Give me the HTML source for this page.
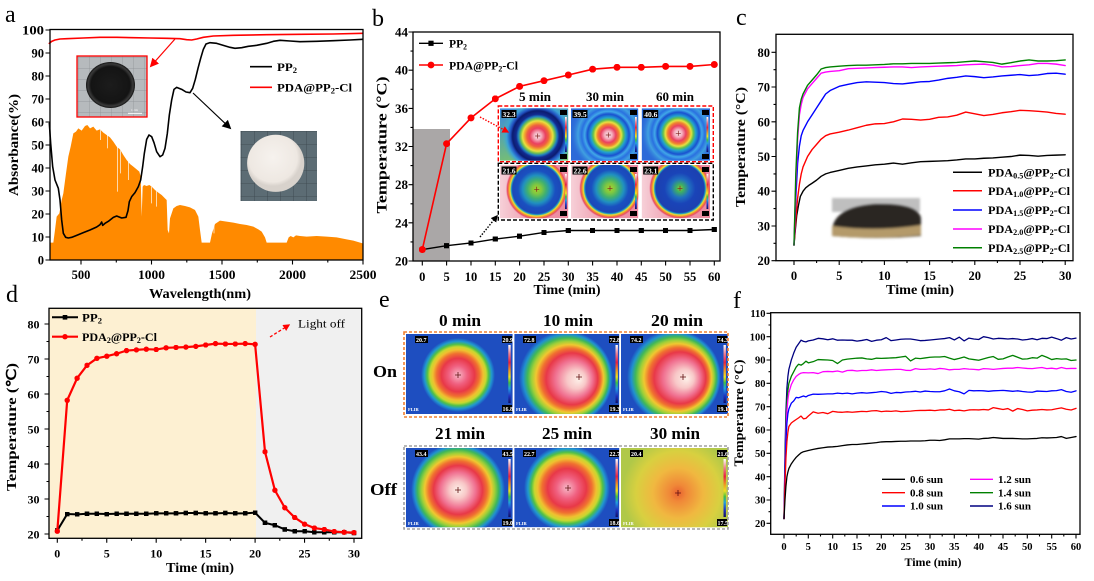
<!DOCTYPE html>
<html><head><meta charset="utf-8"><style>
html,body{margin:0;padding:0;background:#fff;}
svg{display:block;}
text{font-family:"Liberation Serif",serif;font-weight:bold;fill:#000;}
.pl{font-weight:normal;font-size:24px;}
.ax{fill:none;stroke:#000;stroke-width:1.3;}
.tk{fill:none;stroke:#000;stroke-width:1.1;}
.ns{vector-effect:non-scaling-stroke;fill:none;stroke-linejoin:round;stroke-linecap:round;}
.wt{fill:#fff;font-size:6px;}
</style></head><body>
<svg width="1094" height="581" viewBox="0 0 1094 581" xmlns="http://www.w3.org/2000/svg">
<defs>
<marker id="mSqB" viewBox="0 0 6 6" refX="3" refY="3" markerWidth="5.2" markerHeight="5.2" markerUnits="userSpaceOnUse"><rect width="6" height="6" fill="#000"/></marker>
<marker id="mCiB" viewBox="0 0 6 6" refX="3" refY="3" markerWidth="7" markerHeight="7" markerUnits="userSpaceOnUse"><circle cx="3" cy="3" r="3" fill="#f00"/></marker>
<marker id="mSqD" viewBox="0 0 6 6" refX="3" refY="3" markerWidth="4.6" markerHeight="4.6" markerUnits="userSpaceOnUse"><rect width="6" height="6" fill="#000"/></marker>
<marker id="mCiD" viewBox="0 0 6 6" refX="3" refY="3" markerWidth="5.4" markerHeight="5.4" markerUnits="userSpaceOnUse"><circle cx="3" cy="3" r="3" fill="#f00"/></marker>
<marker id="arK" viewBox="0 0 10 10" refX="8" refY="5" markerWidth="9" markerHeight="9" orient="auto" markerUnits="userSpaceOnUse"><path d="M0,0 L10,5 L0,10 z" fill="#000"/></marker>
<marker id="arR" viewBox="0 0 10 10" refX="8" refY="5" markerWidth="9" markerHeight="9" orient="auto" markerUnits="userSpaceOnUse"><path d="M0,0 L10,5 L0,10 z" fill="#f00"/></marker>
<marker id="arRs" viewBox="0 0 10 10" refX="8" refY="5" markerWidth="7" markerHeight="7" orient="auto" markerUnits="userSpaceOnUse"><path d="M0,0 L10,5 L0,10 z" fill="#f00"/></marker>
<marker id="arKs" viewBox="0 0 10 10" refX="8" refY="5" markerWidth="7" markerHeight="7" orient="auto" markerUnits="userSpaceOnUse"><path d="M0,0 L10,5 L0,10 z" fill="#000"/></marker>

<linearGradient id="cbar" x1="0" y1="0" x2="0" y2="1">
<stop offset="0" stop-color="#ffffff"/><stop offset="0.15" stop-color="#f08090"/><stop offset="0.3" stop-color="#e82040"/><stop offset="0.45" stop-color="#f0a020"/><stop offset="0.55" stop-color="#f0e020"/><stop offset="0.65" stop-color="#40c040"/><stop offset="0.75" stop-color="#20a0e0"/><stop offset="0.88" stop-color="#2030c0"/><stop offset="1" stop-color="#101060"/>
</linearGradient>

<linearGradient id="bt1bg" x1="0" y1="0" x2="0.3" y2="1"><stop offset="0" stop-color="#3a8ae0"/><stop offset="1" stop-color="#78c070"/></linearGradient>
<radialGradient id="bt1">
<stop offset="0" stop-color="#fbe8e8"/><stop offset="0.1" stop-color="#f4b0c0"/><stop offset="0.22" stop-color="#ea4060"/><stop offset="0.3" stop-color="#ee6040"/><stop offset="0.36" stop-color="#f0a030"/><stop offset="0.42" stop-color="#e8e040"/><stop offset="0.48" stop-color="#70c050"/><stop offset="0.54" stop-color="#2080c0"/><stop offset="0.6" stop-color="#122a90"/><stop offset="0.7" stop-color="#0c1c70"/><stop offset="0.76" stop-color="#2050c0"/><stop offset="0.86" stop-color="#3aa0d8"/><stop offset="1" stop-color="#50b8b0" stop-opacity="0"/>
</radialGradient>
<radialGradient id="bt2">
<stop offset="0" stop-color="#fbe8e8"/><stop offset="0.1" stop-color="#f4b0c0"/><stop offset="0.2" stop-color="#ea4060"/><stop offset="0.28" stop-color="#f08030"/><stop offset="0.34" stop-color="#e8e040"/><stop offset="0.4" stop-color="#60c050"/><stop offset="0.46" stop-color="#20a0d0"/><stop offset="0.55" stop-color="#1a50d0"/><stop offset="0.62" stop-color="#40a8e8"/><stop offset="0.7" stop-color="#2a70e0"/><stop offset="0.8" stop-color="#40a0e0"/><stop offset="1" stop-color="#2a6ad8" stop-opacity="0"/>
</radialGradient>
<linearGradient id="bbbg" x1="0" y1="0" x2="1" y2="0"><stop offset="0" stop-color="#f6d0d8"/><stop offset="0.5" stop-color="#ee98aa"/><stop offset="1" stop-color="#ec8aa0"/></linearGradient>
<radialGradient id="bb1">
<stop offset="0" stop-color="#a8d030"/><stop offset="0.15" stop-color="#80c840"/><stop offset="0.3" stop-color="#40b070"/><stop offset="0.45" stop-color="#2090c0"/><stop offset="0.6" stop-color="#1a50c0"/><stop offset="0.78" stop-color="#1c48b8"/><stop offset="0.82" stop-color="#20a0c0"/><stop offset="0.86" stop-color="#f0e030"/><stop offset="0.9" stop-color="#f09030"/><stop offset="0.95" stop-color="#e84868"/><stop offset="1" stop-color="#ee90a8" stop-opacity="0"/>
</radialGradient>
<radialGradient id="bb3">
<stop offset="0" stop-color="#90c838"/><stop offset="0.12" stop-color="#40b060"/><stop offset="0.3" stop-color="#2070c0"/><stop offset="0.5" stop-color="#1a44b8"/><stop offset="0.78" stop-color="#1c40b0"/><stop offset="0.82" stop-color="#20a0c0"/><stop offset="0.86" stop-color="#f0e030"/><stop offset="0.9" stop-color="#f09030"/><stop offset="0.95" stop-color="#e84868"/><stop offset="1" stop-color="#ee90a8" stop-opacity="0"/>
</radialGradient>

<radialGradient id="eg1">
<stop offset="0" stop-color="#f7b8c8"/><stop offset="0.25" stop-color="#f06080"/><stop offset="0.45" stop-color="#e83848"/><stop offset="0.58" stop-color="#f07030"/><stop offset="0.68" stop-color="#f0c030"/><stop offset="0.76" stop-color="#c8d830"/><stop offset="0.83" stop-color="#50c048"/><stop offset="0.91" stop-color="#2098d0"/><stop offset="1" stop-color="#1e4ec0"/>
</radialGradient>
<radialGradient id="eg2" fx="0.64" fy="0.52">
<stop offset="0" stop-color="#fdf0e8"/><stop offset="0.2" stop-color="#f8c8c8"/><stop offset="0.4" stop-color="#f07090"/><stop offset="0.55" stop-color="#e83848"/><stop offset="0.64" stop-color="#f07030"/><stop offset="0.72" stop-color="#f0c830"/><stop offset="0.79" stop-color="#a0d038"/><stop offset="0.86" stop-color="#40b858"/><stop offset="0.93" stop-color="#2090d0"/><stop offset="1" stop-color="#1e4ec0"/>
</radialGradient>
<radialGradient id="eg3">
<stop offset="0" stop-color="#fdf0e8"/><stop offset="0.18" stop-color="#f8c8c8"/><stop offset="0.38" stop-color="#f07090"/><stop offset="0.52" stop-color="#e83848"/><stop offset="0.62" stop-color="#f07030"/><stop offset="0.71" stop-color="#f0c830"/><stop offset="0.78" stop-color="#a0d038"/><stop offset="0.86" stop-color="#40b858"/><stop offset="0.93" stop-color="#2090d0"/><stop offset="1" stop-color="#1e4ec0"/>
</radialGradient>
<radialGradient id="eg4">
<stop offset="0" stop-color="#e86030"/><stop offset="0.15" stop-color="#f08838"/><stop offset="0.45" stop-color="#f0b840"/><stop offset="0.75" stop-color="#d8d040"/><stop offset="1" stop-color="#b0c848"/>
</radialGradient>

<pattern id="grid1" width="11" height="11" patternUnits="userSpaceOnUse" x="78" y="57"><rect width="11" height="11" fill="#b6babd"/><path d="M0 0H11M0 0V11" stroke="#8c9094" stroke-width="0.7"/></pattern>
<pattern id="grid2" width="13" height="13" patternUnits="userSpaceOnUse" x="241" y="131"><rect width="13" height="13" fill="#5c6c74"/><path d="M0 0H13M0 0V13" stroke="#3a454c" stroke-width="0.8"/></pattern>
<radialGradient id="wdisk" cx="0.45" cy="0.4"><stop offset="0" stop-color="#f6f2ee"/><stop offset="0.85" stop-color="#eee8e2"/><stop offset="1" stop-color="#d8d2cc"/></radialGradient>
<radialGradient id="bdisk" cx="0.5" cy="0.5"><stop offset="0" stop-color="#1c1c1c"/><stop offset="0.8" stop-color="#141414"/><stop offset="0.92" stop-color="#3a3a3a"/><stop offset="1" stop-color="#111"/></radialGradient>
<filter id="blur1" x="-20%" y="-30%" width="140%" height="160%"><feGaussianBlur stdDeviation="1.4"/></filter>

<clipPath id="cb1"><rect x="500" y="108.3" width="68.3" height="52.4"/></clipPath>
<clipPath id="cb2"><rect x="571" y="108.3" width="67.3" height="52.4"/></clipPath>
<clipPath id="cb3"><rect x="641.7" y="108.3" width="68.3" height="52.4"/></clipPath>
<clipPath id="cb4"><rect x="500" y="165" width="68.3" height="53.3"/></clipPath>
<clipPath id="cb5"><rect x="571" y="165" width="67.3" height="53.3"/></clipPath>
<clipPath id="cb6"><rect x="641.7" y="165" width="68.3" height="53.3"/></clipPath>
<clipPath id="ce1"><rect x="406" y="334" width="106.7" height="80"/></clipPath>
<clipPath id="ce2"><rect x="514.3" y="334" width="105" height="80"/></clipPath>
<clipPath id="ce3"><rect x="621" y="334" width="107" height="80"/></clipPath>
<clipPath id="ce4"><rect x="406" y="448" width="106.7" height="79.3"/></clipPath>
<clipPath id="ce5"><rect x="514.3" y="448" width="105" height="79.3"/></clipPath>
<clipPath id="ce6"><rect x="621" y="448" width="107" height="79.3"/></clipPath>
</defs>

<rect width="1094" height="581" fill="#fff"/>

<!-- ================= PANEL A ================= -->
<text class="pl" x="5" y="22">a</text>
<g transform="scale(0.3333333)">
<polygon fill="#ff8a00" points="150,780 150,728 160,728 165,690 170,650 178,640 185,600 190,580 198,520 205,470 212,440 220,400 228,395 235,385 245,392 255,378 262,375 270,385 280,380 290,392 300,388 310,398 320,405 330,412 340,425 350,440 360,448 370,465 380,480 390,492 400,500 410,508 418,515 422,530 425,650 428,560 432,555 440,558 448,555 455,560 465,570 475,578 485,585 495,595 500,600 503,690 507,700 510,655 515,640 520,625 530,618 540,615 555,618 570,622 585,630 595,650 600,690 605,728 630,728 636,700 645,672 660,662 680,665 700,668 720,672 740,675 760,680 775,688 785,695 795,712 800,728 860,728 866,712 872,708 880,712 888,706 900,708 920,710 950,708 980,710 1010,712 1040,718 1060,722 1088,730 1088,780"/>
<g stroke="#fff" stroke-width="2">
<line x1="302" y1="388" x2="302" y2="420"/><line x1="322" y1="405" x2="322" y2="445"/><line x1="352" y1="440" x2="352" y2="575"/><line x1="362" y1="448" x2="362" y2="520"/><line x1="385" y1="485" x2="385" y2="540"/><line x1="455" y1="560" x2="455" y2="610"/><line x1="470" y1="570" x2="470" y2="620"/><line x1="642" y1="672" x2="642" y2="700"/>
</g>
<polyline class="ns" stroke="#000" stroke-width="1.6" points="148,370 152,430 158,500 165,540 175,565 180,600 185,660 190,700 197,712 205,714 215,712 230,706 250,698 270,690 290,681 300,674 305,666 308,676 315,670 325,664 340,652 350,648 365,654 378,652 384,632 388,605 395,590 405,578 415,560 422,540 428,500 433,460 440,418 447,405 455,410 462,428 470,455 480,470 488,465 495,445 502,400 508,345 515,300 522,268 530,262 545,268 558,276 570,278 578,265 586,238 594,205 602,175 610,148 618,132 630,128 650,130 670,136 690,142 705,145 725,143 745,139 770,136 800,130 820,124 840,121 870,123 900,125 950,124 1000,122 1050,120 1088,118"/>
<polyline class="ns" stroke="#f00" stroke-width="1.6" points="148,130 155,124 165,120 180,117 200,116 250,114 300,112 350,112 400,113 450,114 500,115 540,116 560,119 575,120 590,117 610,112 640,108 700,106 800,104 900,103 1000,102 1088,100"/>
</g>
<rect x="77" y="56" width="70" height="61" fill="url(#grid1)"/>
<ellipse cx="110.5" cy="85" rx="24.5" ry="23" fill="url(#bdisk)"/>
<line x1="128" y1="113.3" x2="142" y2="113.3" stroke="#fff" stroke-width="1"/>
<text x="131" y="111" style="font-size:3.5px;fill:#fff;font-weight:normal">1 cm</text>
<rect x="77" y="56" width="70" height="61" fill="none" stroke="#f00" stroke-width="1.3"/>
<rect x="240.5" y="131" width="76.5" height="70" fill="url(#grid2)"/>
<circle cx="275.7" cy="163.3" r="28.6" fill="url(#wdisk)"/>
<line x1="175" y1="39" x2="151" y2="66" stroke="#f00" stroke-width="1.2" marker-end="url(#arR)"/>
<line x1="193" y1="93" x2="230" y2="128" stroke="#000" stroke-width="1.2" marker-end="url(#arK)"/>
<line x1="250" y1="66.7" x2="272" y2="66.7" stroke="#000" stroke-width="1.6"/>
<line x1="250" y1="87.3" x2="272" y2="87.3" stroke="#f00" stroke-width="1.6"/>
<text x="277" y="71" style="font-size:12px" textLength="20" lengthAdjust="spacingAndGlyphs">PP<tspan font-size="8" dy="2">2</tspan></text>
<text x="277" y="91.5" style="font-size:12px" textLength="75" lengthAdjust="spacingAndGlyphs">PDA@PP<tspan font-size="8" dy="2">2</tspan><tspan dy="-2">-Cl</tspan></text>
<rect class="ax" x="50" y="29.5" width="313" height="230.5"/>
<path class="tk" d="M45.5 260H50M45.5 237H50M45.5 214H50M45.5 191H50M45.5 168H50M45.5 145H50M45.5 122H50M45.5 99H50M45.5 76H50M45.5 53H50M45.5 30H50
M81 260V264.5M151.5 260V264.5M222 260V264.5M292.5 260V264.5M363 260V264.5M116.3 260V262.5M186.8 260V262.5M257.3 260V262.5M327.8 260V262.5"/>
<g style="font-size:12.5px" text-anchor="end">
<text x="44" y="264.5">0</text><text x="44" y="241.5">10</text><text x="44" y="218.5">20</text><text x="44" y="195.5">30</text><text x="44" y="172.5">40</text><text x="44" y="149.5">50</text><text x="44" y="126.5">60</text><text x="44" y="103.5">70</text><text x="44" y="80.5">80</text><text x="44" y="57.5">90</text><text x="44" y="34.5" textLength="22" lengthAdjust="spacingAndGlyphs">100</text>
</g>
<g style="font-size:12.5px" text-anchor="middle">
<text x="81" y="279">500</text><text x="151.5" y="279" textLength="27" lengthAdjust="spacingAndGlyphs">1000</text><text x="222" y="279" textLength="27" lengthAdjust="spacingAndGlyphs">1500</text><text x="292.5" y="279" textLength="27" lengthAdjust="spacingAndGlyphs">2000</text><text x="363" y="279" textLength="27" lengthAdjust="spacingAndGlyphs">2500</text>
</g>
<text transform="translate(18,145) rotate(-90)" text-anchor="middle" style="font-size:14px" textLength="102" lengthAdjust="spacingAndGlyphs">Absorbance(%)</text>
<text x="200" y="298" text-anchor="middle" style="font-size:14px" textLength="102" lengthAdjust="spacingAndGlyphs">Wavelength(nm)</text>

<!-- ================= PANEL B ================= -->
<text class="pl" x="372" y="26">b</text>
<rect x="413" y="129" width="37" height="132" fill="#aaa7a7"/>
<polyline fill="none" stroke="#000" stroke-width="1.4" marker-start="url(#mSqB)" marker-mid="url(#mSqB)" marker-end="url(#mSqB)" points="422.3,249.55 446.6,245.7 471,242.9 495.3,239.1 519.6,236.2 544,232.4 568.3,230.5 592.6,230.5 617,230.5 641.3,230.5 665.6,230.5 690,230.5 714.3,229.5"/>
<polyline fill="none" stroke="#f00" stroke-width="1.6" marker-start="url(#mCiB)" marker-mid="url(#mCiB)" marker-end="url(#mCiB)" points="422.3,249.55 446.6,143.7 471,117.9 495.3,98.8 519.6,86.4 544,80.7 568.3,75 592.6,69.2 617,67.3 641.3,67.3 665.6,66.4 690,66.4 714.3,64.5"/>
<rect x="419.7" y="247" width="5.2" height="5.2" fill="#f00"/>
<line x1="419" y1="43.3" x2="443" y2="43.3" stroke="#000" stroke-width="1.4"/><rect x="428.4" y="40.7" width="5.2" height="5.2" fill="#000"/>
<line x1="419" y1="65" x2="443" y2="65" stroke="#f00" stroke-width="1.6"/><circle cx="431" cy="65" r="3.4" fill="#f00"/>
<text x="449" y="47.5" style="font-size:12px" textLength="18" lengthAdjust="spacingAndGlyphs">PP<tspan font-size="8" dy="2">2</tspan></text>
<text x="449" y="69.3" style="font-size:12px" textLength="69" lengthAdjust="spacingAndGlyphs">PDA@PP<tspan font-size="8" dy="2">2</tspan><tspan dy="-2">-Cl</tspan></text>
<g style="font-size:13px" text-anchor="middle">
<text x="535" y="101" textLength="32" lengthAdjust="spacingAndGlyphs">5 min</text>
<text x="605" y="101" textLength="38" lengthAdjust="spacingAndGlyphs">30 min</text>
<text x="675" y="101" textLength="38" lengthAdjust="spacingAndGlyphs">60 min</text>
</g>
<g clip-path="url(#cb1)"><rect x="500" y="108.3" width="68.3" height="52.4" fill="url(#bt1bg)"/><circle cx="537.7" cy="136" r="36" fill="url(#bt1)"/></g>
<g clip-path="url(#cb2)"><rect x="571" y="108.3" width="67.3" height="52.4" fill="#2c6ad8"/><circle cx="608.3" cy="135" r="38" fill="url(#bt2)"/></g>
<g clip-path="url(#cb3)"><rect x="641.7" y="108.3" width="68.3" height="52.4" fill="#2c6ad8"/><circle cx="678.3" cy="133.3" r="38" fill="url(#bt2)"/></g>
<g clip-path="url(#cb4)"><rect x="500" y="165" width="68.3" height="53.3" fill="url(#bbbg)"/><circle cx="536.7" cy="189.3" r="31" fill="url(#bb1)"/></g>
<g clip-path="url(#cb5)"><rect x="571" y="165" width="67.3" height="53.3" fill="url(#bbbg)"/><circle cx="610" cy="188.3" r="31" fill="url(#bb1)"/></g>
<g clip-path="url(#cb6)"><rect x="641.7" y="165" width="68.3" height="53.3" fill="url(#bbbg)"/><circle cx="680" cy="188.3" r="31" fill="url(#bb3)"/></g>
<g>
<rect x="501.5" y="110" width="15" height="8" fill="#000"/><text class="wt" x="502.5" y="117" style="font-size:7.5px">32.3</text>
<rect x="572.5" y="110" width="15" height="8" fill="#000"/><text class="wt" x="573.5" y="117" style="font-size:7.5px">39.5</text>
<rect x="643.2" y="110" width="15" height="8" fill="#000"/><text class="wt" x="644.2" y="117" style="font-size:7.5px">40.6</text>
<rect x="501.5" y="166.5" width="15" height="8" fill="#000"/><text class="wt" x="502.5" y="173.5" style="font-size:7.5px">21.6</text>
<rect x="572.5" y="166.5" width="15" height="8" fill="#000"/><text class="wt" x="573.5" y="173.5" style="font-size:7.5px">22.6</text>
<rect x="643.2" y="166.5" width="15" height="8" fill="#000"/><text class="wt" x="644.2" y="173.5" style="font-size:7.5px">23.1</text>
<rect x="560" y="110" width="7" height="5" fill="#000"/><rect x="630" y="110" width="7" height="5" fill="#000"/><rect x="702" y="110" width="7" height="5" fill="#000"/>
<rect x="560" y="154" width="7" height="5" fill="#000"/><rect x="630" y="154" width="7" height="5" fill="#000"/><rect x="702" y="154" width="7" height="5" fill="#000"/>
<rect x="560" y="167" width="7" height="5" fill="#000"/><rect x="630" y="167" width="7" height="5" fill="#000"/><rect x="702" y="167" width="7" height="5" fill="#000"/>
<rect x="560" y="211" width="7" height="5" fill="#000"/><rect x="630" y="211" width="7" height="5" fill="#000"/><rect x="702" y="211" width="7" height="5" fill="#000"/>
<rect x="565" y="117" width="1.8" height="35" fill="url(#cbar)"/><rect x="635" y="117" width="1.8" height="35" fill="url(#cbar)"/><rect x="706.5" y="117" width="1.8" height="35" fill="url(#cbar)"/>
<rect x="565" y="174" width="1.8" height="35" fill="url(#cbar)"/><rect x="635" y="174" width="1.8" height="35" fill="url(#cbar)"/><rect x="706.5" y="174" width="1.8" height="35" fill="url(#cbar)"/>
</g>
<g stroke="#802020" stroke-width="0.7">
<path d="M535.2 136H540.2M537.7 133.5V138.5M605.8 135H610.8M608.3 132.5V137.5M675.8 133.3H680.8M678.3 130.8V135.8M534.2 189.3H539.2M536.7 186.8V191.8M607.5 188.3H612.5M610 185.8V190.8M677.5 188.3H682.5M680 185.8V190.8"/>
</g>
<rect x="498.3" y="106" width="215" height="55.7" fill="none" stroke="#f00" stroke-width="1.4" stroke-dasharray="4,2"/>
<rect x="498.3" y="163.3" width="215" height="56.7" fill="none" stroke="#000" stroke-width="1.4" stroke-dasharray="4,2"/>
<line x1="480" y1="117" x2="508" y2="132" stroke="#f00" stroke-width="1.4" stroke-dasharray="1.5,1.5" marker-end="url(#arRs)"/>
<line x1="480" y1="237" x2="497" y2="216" stroke="#000" stroke-width="1.4" stroke-dasharray="1.5,1.5" marker-end="url(#arKs)"/>
<rect class="ax" x="413" y="32" width="307" height="229"/>
<path class="tk" d="M408.5 261H413M408.5 222.8H413M408.5 184.7H413M408.5 146.5H413M408.5 108.4H413M408.5 70.2H413M408.5 32H413
M410.5 241.9H413M410.5 203.8H413M410.5 165.6H413M410.5 127.4H413M410.5 89.3H413M410.5 51.1H413
M422.3 261V265.5M446.6 261V265.5M471 261V265.5M495.3 261V265.5M519.6 261V265.5M544 261V265.5M568.3 261V265.5M592.6 261V265.5M617 261V265.5M641.3 261V265.5M665.6 261V265.5M690 261V265.5M714.3 261V265.5"/>
<g style="font-size:13px" text-anchor="end">
<text x="408" y="265.5">20</text><text x="408" y="227.3">24</text><text x="408" y="189.2">28</text><text x="408" y="151">32</text><text x="408" y="112.9">36</text><text x="408" y="74.7">40</text><text x="408" y="36.5">44</text>
</g>
<g style="font-size:12.5px" text-anchor="middle">
<text x="422.3" y="281">0</text><text x="446.6" y="281">5</text><text x="471" y="281">10</text><text x="495.3" y="281">15</text><text x="519.6" y="281">20</text><text x="544" y="281">25</text><text x="568.3" y="281">30</text><text x="592.6" y="281">35</text><text x="617" y="281">40</text><text x="641.3" y="281">45</text><text x="665.6" y="281">50</text><text x="690" y="281">55</text><text x="714.3" y="281">60</text>
</g>
<text transform="translate(386.5,145) rotate(-90)" text-anchor="middle" style="font-size:15px" textLength="137" lengthAdjust="spacingAndGlyphs">Temperature (°C)</text>
<text x="567" y="294" text-anchor="middle" style="font-size:14px" textLength="67" lengthAdjust="spacingAndGlyphs">Time (min)</text>

<!-- ================= PANEL C ================= -->
<text class="pl" x="736" y="25">c</text>
<g transform="translate(794,330.16) scale(9.04,-3.473)">
<polyline class="ns" stroke="#000" stroke-width="1.4" points="0,24.5 0.15,29 0.3,33 0.5,36 0.7,38.5 1,40 1.3,41 1.7,41.8 2,42.3 2.5,43.2 3,44.3 3.5,45 4,45.4 5,46 6,46.6 7,47 8,47.3 9,47.6 10,47.8 11,48.1 12,47.8 13,48.2 14,48.5 15,48.6 16,48.7 17,48.8 18,49 19,49.3 20,49.3 21,49.5 22,49.6 23,49.8 24,50 25,50.4 26,50.3 27,50.1 28,50.3 29,50.4 30,50.5"/>
<polyline class="ns" stroke="#f00" stroke-width="1.4" points="0,24.5 0.2,32 0.4,38 0.6,42 0.8,45 1,47 1.5,50 2,52 2.5,53.5 3,55 3.5,56 4,56.5 5,57 6,57.6 7,58.3 8,59 9,59.4 10,59.5 11,60 12,60.8 13,60.7 14,60.5 15,60.7 16,61.3 17,61.4 18,61.9 19,62.8 20,62.3 21,61.8 22,62.1 23,62.6 24,62.9 25,63.3 26,63.2 27,63 28,62.8 29,62.4 30,62.2"/>
<polyline class="ns" stroke="#00f" stroke-width="1.4" points="0,24.5 0.2,38 0.4,48 0.6,53 0.8,56 1,57.5 1.5,60 2,62 2.5,64 3,66 3.5,68 4,69 5,70.2 6,70.8 7,71.3 8,71.5 9,71.4 10,71.3 11,71 12,70.9 13,71.2 14,71.5 15,71.6 16,72 17,72.5 18,72.8 19,73.2 20,73 21,72.7 22,72.9 23,73.2 24,73.4 25,73.6 26,73.3 27,73.5 28,73.9 29,74 30,73.7"/>
<polyline class="ns" stroke="#f0f" stroke-width="1.4" points="0,24.5 0.2,42 0.4,55 0.6,62 0.8,65 1,67 1.5,69.5 2,71 2.5,72.5 3,74 3.5,74.3 4,74.5 5,74.7 6,75.3 7,75.4 8,75.5 9,75.6 10,75.7 11,75.8 12,75.8 13,75.6 14,75.8 15,75.9 16,76 17,76.1 18,76.2 19,76.4 20,76.5 21,76.6 22,76.3 23,75.8 24,75.9 25,76.2 26,76.4 27,76.8 28,76.8 29,76.6 30,76.2"/>
<polyline class="ns" stroke="#008000" stroke-width="1.4" points="0,24.5 0.2,45 0.4,57 0.6,64 0.8,66.5 1,68 1.5,70.5 2,72 2.5,73.5 3,75.2 3.5,75.6 4,75.8 5,76 6,76.2 7,76.3 8,76.3 9,76.4 10,76.5 11,76.7 12,76.7 13,76.8 14,76.8 15,76.8 16,76.9 17,77 18,77.1 19,77.3 20,77.5 21,77.3 22,77.1 23,76.6 24,77 25,77.5 26,77.8 27,77.5 28,77.5 29,77.6 30,77.8"/>
</g>
<g filter="url(#blur1)">
<rect x="832" y="198" width="88" height="14" fill="#8a8a8a" opacity="0.55"/>
<path d="M832 230 Q834 207 875 204 Q918 203 921 218 L921 236 Q876 240 832 236 Z" fill="#2b2622"/>
<path d="M832 226 Q876 232 921 225 L921 235 Q876 240 832 236 Z" fill="#b49a6a"/>
</g>
<g stroke-width="1.5">
<line x1="953" y1="172.3" x2="982" y2="172.3" stroke="#000"/>
<line x1="953" y1="190.7" x2="982" y2="190.7" stroke="#f00"/>
<line x1="953" y1="210" x2="982" y2="210" stroke="#00f"/>
<line x1="953" y1="229" x2="982" y2="229" stroke="#f0f"/>
<line x1="953" y1="247.7" x2="982" y2="247.7" stroke="#008000"/>
</g>
<g style="font-size:12px">
<text x="988" y="176.5" textLength="82" lengthAdjust="spacingAndGlyphs">PDA<tspan font-size="8" dy="2">0.5</tspan><tspan dy="-2">@PP</tspan><tspan font-size="8" dy="2">2</tspan><tspan dy="-2">-Cl</tspan></text>
<text x="988" y="195" textLength="82" lengthAdjust="spacingAndGlyphs">PDA<tspan font-size="8" dy="2">1.0</tspan><tspan dy="-2">@PP</tspan><tspan font-size="8" dy="2">2</tspan><tspan dy="-2">-Cl</tspan></text>
<text x="988" y="214.2" textLength="82" lengthAdjust="spacingAndGlyphs">PDA<tspan font-size="8" dy="2">1.5</tspan><tspan dy="-2">@PP</tspan><tspan font-size="8" dy="2">2</tspan><tspan dy="-2">-Cl</tspan></text>
<text x="988" y="233.2" textLength="82" lengthAdjust="spacingAndGlyphs">PDA<tspan font-size="8" dy="2">2.0</tspan><tspan dy="-2">@PP</tspan><tspan font-size="8" dy="2">2</tspan><tspan dy="-2">-Cl</tspan></text>
<text x="988" y="252" textLength="82" lengthAdjust="spacingAndGlyphs">PDA<tspan font-size="8" dy="2">2.5</tspan><tspan dy="-2">@PP</tspan><tspan font-size="8" dy="2">2</tspan><tspan dy="-2">-Cl</tspan></text>
</g>
<rect class="ax" x="776" y="34.3" width="297" height="226.4"/>
<path class="tk" d="M771.5 260.7H776M771.5 226H776M771.5 191.2H776M771.5 156.5H776M771.5 121.8H776M771.5 87H776M771.5 52.3H776
M773.5 243.3H776M773.5 208.6H776M773.5 173.9H776M773.5 139.1H776M773.5 104.4H776M773.5 69.7H776
M794 260.7V265M839.2 260.7V265M884.4 260.7V265M929.6 260.7V265M974.8 260.7V265M1020 260.7V265M1065.2 260.7V265
M816.6 260.7V263M861.8 260.7V263M907 260.7V263M952.2 260.7V263M997.4 260.7V263M1042.6 260.7V263"/>
<g style="font-size:12.5px" text-anchor="end">
<text x="770" y="265.2">20</text><text x="770" y="230.5">30</text><text x="770" y="195.7">40</text><text x="770" y="161">50</text><text x="770" y="126.3">60</text><text x="770" y="91.5">70</text><text x="770" y="56.8">80</text>
</g>
<g style="font-size:12.5px" text-anchor="middle">
<text x="794" y="280">0</text><text x="839.2" y="280">5</text><text x="884.4" y="280">10</text><text x="929.6" y="280">15</text><text x="974.8" y="280">20</text><text x="1020" y="280">25</text><text x="1065.2" y="280">30</text>
</g>
<text transform="translate(745,147) rotate(-90)" text-anchor="middle" style="font-size:14px" textLength="120" lengthAdjust="spacingAndGlyphs">Temperature (°C)</text>
<text x="920" y="294" text-anchor="middle" style="font-size:14px" textLength="68" lengthAdjust="spacingAndGlyphs">Time (min)</text>

<!-- ================= PANEL D ================= -->
<text class="pl" x="6" y="302">d</text>
<rect x="49" y="308.3" width="207" height="230" fill="#fdf0d2"/>
<rect x="256" y="308.3" width="105.7" height="230" fill="#f0f0f0"/>
<polyline fill="none" stroke="#000" stroke-width="2" marker-start="url(#mSqD)" marker-mid="url(#mSqD)" marker-end="url(#mSqD)" points="57.3,530.5 67.2,514.05 77.1,514.4 87,513.7 96.9,513.7 106.8,514.05 116.6,513.7 126.5,513.7 136.4,513.7 146.3,513.7 156.2,513.35 166.1,513.35 176,513.35 185.9,513 195.8,513 205.7,513.35 215.5,513.35 225.4,513 235.3,513.35 245.2,513.35 255.1,512.65 265,522.8 274.9,525.25 284.8,529.45 294.7,531.2 304.6,531.2 314.4,532.25 324.3,532.25 334.2,532.25 344.1,532.25 354,532.95"/>
<polyline fill="none" stroke="#f00" stroke-width="2.2" marker-start="url(#mCiD)" marker-mid="url(#mCiD)" marker-end="url(#mCiD)" points="57.3,531.2 67.2,400.3 77.1,378.25 87,365.3 96.9,358.3 106.8,356.2 116.6,353.75 126.5,350.6 136.4,349.9 146.3,349.2 156.2,349.55 166.1,347.8 176,347.45 185.9,347.1 195.8,346.4 205.7,345 215.5,343.6 225.4,343.95 235.3,343.95 245.2,343.6 255.1,344.3 265,451.75 274.9,490.25 284.8,507.75 294.7,517.55 304.6,524.2 314.4,528.05 324.3,529.45 334.2,531.55 344.1,532.25 354,532.6"/>
<line x1="52" y1="317.3" x2="78" y2="317.3" stroke="#000" stroke-width="2"/><rect x="62.7" y="315" width="4.6" height="4.6" fill="#000"/>
<line x1="52" y1="336.7" x2="78" y2="336.7" stroke="#f00" stroke-width="2.2"/><circle cx="65" cy="336.7" r="2.7" fill="#f00"/>
<text x="82" y="321.5" style="font-size:12px" textLength="20" lengthAdjust="spacingAndGlyphs">PP<tspan font-size="8" dy="2">2</tspan></text>
<text x="82" y="341" style="font-size:12px" textLength="75" lengthAdjust="spacingAndGlyphs">PDA<tspan font-size="8" dy="2">2</tspan><tspan dy="-2">@PP</tspan><tspan font-size="8" dy="2">2</tspan><tspan dy="-2">-Cl</tspan></text>
<text x="298" y="327.5" style="font-size:12px;font-weight:normal" textLength="47" lengthAdjust="spacingAndGlyphs">Light off</text>
<line x1="270" y1="337" x2="289" y2="325" stroke="#f00" stroke-width="1.3" stroke-dasharray="3,2" marker-end="url(#arRs)"/>
<rect class="ax" x="49" y="308.3" width="312.7" height="230"/>
<path class="tk" d="M44.5 534H49M44.5 499H49M44.5 464H49M44.5 429H49M44.5 394H49M44.5 359H49M44.5 324H49
M46.5 516.5H49M46.5 481.5H49M46.5 446.5H49M46.5 411.5H49M46.5 376.5H49M46.5 341.5H49
M57.3 538.3V542.8M106.75 538.3V542.8M156.2 538.3V542.8M205.65 538.3V542.8M255.1 538.3V542.8M304.55 538.3V542.8M354 538.3V542.8
M82 538.3V540.8M131.5 538.3V540.8M180.9 538.3V540.8M230.4 538.3V540.8M279.8 538.3V540.8M329.3 538.3V540.8"/>
<g style="font-size:12px" text-anchor="end">
<text x="39.5" y="538.3">20</text><text x="39.5" y="503.3">30</text><text x="39.5" y="468.3">40</text><text x="39.5" y="433.3">50</text><text x="39.5" y="398.3">60</text><text x="39.5" y="363.3">70</text><text x="39.5" y="328.3">80</text>
</g>
<g style="font-size:12px" text-anchor="middle">
<text x="57.3" y="557.5">0</text><text x="106.75" y="557.5">5</text><text x="156.2" y="557.5">10</text><text x="205.65" y="557.5">15</text><text x="255.1" y="557.5">20</text><text x="304.55" y="557.5">25</text><text x="354" y="557.5">30</text>
</g>
<text transform="translate(16,427) rotate(-90)" text-anchor="middle" style="font-size:14px" textLength="128" lengthAdjust="spacingAndGlyphs">Temperature (℃)</text>
<text x="200" y="572" text-anchor="middle" style="font-size:14px" textLength="68" lengthAdjust="spacingAndGlyphs">Time (min)</text>

<!-- ================= PANEL E ================= -->
<text class="pl" x="379" y="307">e</text>
<text x="373" y="377" style="font-size:17px" textLength="24" lengthAdjust="spacingAndGlyphs">On</text>
<text x="370" y="495" style="font-size:17px" textLength="27" lengthAdjust="spacingAndGlyphs">Off</text>
<g style="font-size:17px" text-anchor="middle">
<text x="460" y="326" textLength="42" lengthAdjust="spacingAndGlyphs">0 min</text>
<text x="568" y="326" textLength="50" lengthAdjust="spacingAndGlyphs">10 min</text>
<text x="677" y="326" textLength="52" lengthAdjust="spacingAndGlyphs">20 min</text>
<text x="460" y="439" textLength="50" lengthAdjust="spacingAndGlyphs">21 min</text>
<text x="567" y="439" textLength="50" lengthAdjust="spacingAndGlyphs">25 min</text>
<text x="675" y="439" textLength="50" lengthAdjust="spacingAndGlyphs">30 min</text>
</g>
<g clip-path="url(#ce1)"><rect x="406" y="334" width="106.7" height="80" fill="#1e4ec0"/><circle cx="458" cy="375" r="37" fill="url(#eg1)"/></g>
<g clip-path="url(#ce2)"><rect x="514.3" y="334" width="105" height="80" fill="#1e4ec0"/><circle cx="566" cy="378" r="47" fill="url(#eg2)"/></g>
<g clip-path="url(#ce3)"><rect x="621" y="334" width="107" height="80" fill="#1e4ec0"/><circle cx="674" cy="377" r="47" fill="url(#eg2)"/></g>
<g clip-path="url(#ce4)"><rect x="406" y="448" width="106.7" height="79.3" fill="#1e4ec0"/><circle cx="458" cy="490" r="47" fill="url(#eg3)"/></g>
<g clip-path="url(#ce5)"><rect x="514.3" y="448" width="105" height="79.3" fill="#1e4ec0"/><circle cx="567" cy="488" r="43" fill="url(#eg1)"/></g>
<g clip-path="url(#ce6)"><rect x="621" y="448" width="107" height="79.3" fill="#b0c848"/><circle cx="678" cy="493" r="56" fill="url(#eg4)"/></g>
<g>
<rect x="415" y="336" width="13" height="7" fill="#000"/><text class="wt" x="416" y="342">20.7</text>
<rect x="523" y="336" width="13" height="7" fill="#000"/><text class="wt" x="524" y="342">72.8</text>
<rect x="630" y="336" width="13" height="7" fill="#000"/><text class="wt" x="631" y="342">74.2</text>
<rect x="415" y="450" width="13" height="7" fill="#000"/><text class="wt" x="416" y="456">43.4</text>
<rect x="523" y="450" width="13" height="7" fill="#000"/><text class="wt" x="524" y="456">22.7</text>
<rect x="630" y="450" width="13" height="7" fill="#000"/><text class="wt" x="631" y="456">20.4</text>
<rect x="502" y="336" width="10" height="7" fill="#000"/><text class="wt" x="502.5" y="342">20.9</text>
<rect x="609" y="336" width="10" height="7" fill="#000"/><text class="wt" x="609.5" y="342">72.8</text>
<rect x="717" y="336" width="10" height="7" fill="#000"/><text class="wt" x="717.5" y="342">74.3</text>
<rect x="502" y="450" width="10" height="7" fill="#000"/><text class="wt" x="502.5" y="456">43.5</text>
<rect x="609" y="450" width="10" height="7" fill="#000"/><text class="wt" x="609.5" y="456">22.7</text>
<rect x="717" y="450" width="10" height="7" fill="#000"/><text class="wt" x="717.5" y="456">21.6</text>
<rect x="502" y="405" width="10" height="7" fill="#000"/><text class="wt" x="502.5" y="411">16.8</text>
<rect x="609" y="405" width="10" height="7" fill="#000"/><text class="wt" x="609.5" y="411">19.3</text>
<rect x="717" y="405" width="10" height="7" fill="#000"/><text class="wt" x="717.5" y="411">19.1</text>
<rect x="502" y="519" width="10" height="7" fill="#000"/><text class="wt" x="502.5" y="525">19.0</text>
<rect x="609" y="519" width="10" height="7" fill="#000"/><text class="wt" x="609.5" y="525">18.6</text>
<rect x="717" y="519" width="10" height="7" fill="#000"/><text class="wt" x="717.5" y="525">17.5</text>
<rect x="508.3" y="345" width="2.4" height="58" fill="url(#cbar)"/>
<rect x="615.5" y="345" width="2.4" height="58" fill="url(#cbar)"/>
<rect x="723.5" y="345" width="2.4" height="58" fill="url(#cbar)"/>
<rect x="508.3" y="459" width="2.4" height="58" fill="url(#cbar)"/>
<rect x="615.5" y="459" width="2.4" height="58" fill="url(#cbar)"/>
<rect x="723.5" y="459" width="2.4" height="58" fill="url(#cbar)"/>
<text class="wt" x="408" y="411" style="font-size:4.5px">FLIR</text>
<text class="wt" x="516" y="411" style="font-size:4.5px">FLIR</text>
<text class="wt" x="623" y="411" style="font-size:4.5px">FLIR</text>
<text class="wt" x="408" y="525" style="font-size:4.5px">FLIR</text>
<text class="wt" x="516" y="525" style="font-size:4.5px">FLIR</text>
<text class="wt" x="623" y="525" style="font-size:4.5px">FLIR</text>
</g>
<g stroke="#601010" stroke-width="0.8">
<path d="M455 375H461M458 372V378M576 377H582M579 374V380M680 377H686M683 374V380M455 490H461M458 487V493M565 488H571M568 485V491M675 493H681M678 490V496"/>
</g>
<rect x="404" y="332" width="324" height="85" fill="none" stroke="#f08030" stroke-width="1.6" stroke-dasharray="3,2"/>
<rect x="404" y="446" width="324" height="83" fill="none" stroke="#a0a0a0" stroke-width="1.6" stroke-dasharray="3,2"/>

<!-- ================= PANEL F ================= -->
<text class="pl" x="733" y="308">f</text>
<g transform="translate(784,570) scale(4.867,-2.333)">
<polyline class="ns" stroke="#000080" stroke-width="1.3" points="0,22 0.2,50 0.4,68 0.6,78 0.8,83 1,86 1.5,90 2,93 2.5,95.5 3,97 3.5,98.5 4,98 4.5,97.8 5,98.2 6,98.6 7,99.3 8,99.1 9,98.7 10,99.1 11,98.5 12,98.6 13,98.5 14,98.5 15,98.1 16,98.4 17,98.8 18,98 19,98.5 20,98.7 21,99.6 22,98.3 23,98.6 24,98.9 25,99 26,99 27,98.7 28,98.3 29,98.4 30,98.6 31,98.8 32,99 33,99.2 34,99.6 35,98.6 36,99.8 37,98.2 38,99.4 39,99 40,98.8 41,100 42,99.6 43,99 44,99.3 45,99.2 46,99 47,99.2 48,99 49,98.6 50,98.8 51,99.2 52,98.7 53,99.3 54,99.2 55,99.8 56,99.2 57,98.5 58,99.6 59,99 60,99.4"/>
<polyline class="ns" stroke="#008000" stroke-width="1.3" points="0,22 0.2,45 0.4,62 0.6,72 0.8,77 1,80 1.5,83 2,85 2.5,87 3,88.2 3.5,87.8 4,88.5 4.5,89.5 5,88.8 6,89.3 7,90.2 8,90.1 9,90 10,89.8 11,88.5 12,90 13,90.4 14,90.6 15,90.8 16,90.9 17,90.5 18,90.3 19,90.8 20,90.7 21,90.8 22,90.9 23,91 24,91.3 25,91.6 26,89.6 27,90.8 28,90.6 29,90.9 30,91.2 31,91.3 32,91.3 33,91.5 34,90.8 35,90.2 36,90.7 37,91.3 38,90.5 39,90.2 40,89.9 41,90.5 42,91.1 43,91.5 44,90.3 45,90.5 46,91.3 47,92 48,91.2 49,90.4 50,90.5 51,91 52,90.8 53,92 54,91.2 55,90.2 56,90.6 57,90.4 58,90.5 59,89.8 60,90"/>
<polyline class="ns" stroke="#f0f" stroke-width="1.3" points="0,22 0.2,42 0.4,58 0.6,68 0.8,73 1,76 1.5,79.5 2,81.5 2.5,83 3,83.8 3.5,84.4 4,84.6 5,84.5 6,84.6 7,84.2 8,85 9,85.1 10,85 11,85.3 12,84.8 13,85.5 14,85.6 15,85.3 16,85.5 17,85.5 18,85.8 19,85.5 20,85.7 21,85.8 22,85.9 23,86 24,86 25,85.6 26,85.5 27,86.3 28,86 29,86 30,86.2 31,86 32,86.4 33,86.2 34,85.8 35,86 36,86 37,86.3 38,86.1 39,86 40,85.8 41,86.3 42,86.2 43,86 44,86.2 45,86.4 46,86.5 47,86.5 48,86.8 49,86.6 50,86.4 51,86.3 52,86.6 53,86.8 54,86.3 55,86.5 56,86.2 57,86.8 58,86.3 59,86.4 60,86.4"/>
<polyline class="ns" stroke="#00f" stroke-width="1.3" points="0,22 0.2,40 0.4,55 0.6,63 0.8,67 1,69 1.5,71.5 2,72.5 2.5,74 3,73.8 3.5,74.2 4,74.6 4.5,74.2 5,74.8 6,75.4 7,75.3 8,75.4 9,75.5 10,75.5 11,75.8 12,75.6 13,75.8 14,75.5 15,75.8 16,76 17,75.8 18,76 19,76.2 20,76.5 21,76.3 22,75.7 23,76.1 24,76 25,76.3 26,76.4 27,76.6 28,76.3 29,76.7 30,76.5 31,76.4 32,76.4 33,76.8 34,77.6 35,76.8 36,76.4 37,75.5 38,77 39,76.8 40,76.9 41,76.8 42,76.6 43,76.8 44,76.9 45,77 46,76.8 47,76.6 48,76.8 49,76.5 50,76.3 51,76.2 52,76.7 53,76.6 54,76.5 55,76.8 56,76.9 57,77.3 58,76.5 59,76.2 60,76.8"/>
<polyline class="ns" stroke="#f00" stroke-width="1.3" points="0,22 0.2,36 0.4,48 0.6,55 0.8,59 1,61.5 1.5,63 2,63.8 2.5,64.5 3,65.2 3.5,66 4,64.8 4.5,65 5,66 6,67.8 7,67.2 8,67.5 9,67 10,68 11,67.7 12,67.6 13,67.8 14,67.6 15,67.8 16,68 17,67.9 18,68.2 19,68.3 20,67.9 21,68.1 22,68 23,68.2 24,67.9 25,68 26,68.1 27,68.3 28,68.4 29,68.4 30,68.5 31,68.3 32,68.6 33,68.6 34,68.9 35,68.3 36,68.5 37,68.2 38,68.6 39,68.7 40,68.6 41,68.8 42,68.6 43,69.6 44,69.2 45,68.8 46,69.2 47,68.1 48,69.2 49,68.8 50,68.2 51,68.5 52,68.6 53,68.8 54,68.6 55,68.7 56,69.1 57,69.5 58,68.9 59,68.6 60,69.3"/>
<polyline class="ns" stroke="#000" stroke-width="1.3" points="0,22 0.2,30 0.4,36 0.6,40 0.8,42 1,43.5 1.5,45.5 2,47 2.5,48.3 3,49.3 3.5,50.2 4,50.7 5,51.2 6,51.7 7,52.1 8,52.4 9,52.7 10,52.8 11,53 12,53.3 13,53.6 14,53.8 15,53.8 16,54 17,54.2 18,54.4 19,54.6 20,54.9 21,55 22,55 23,55.1 24,55.2 25,55.2 26,55.3 27,55.3 28,55.3 29,55.4 30,55.6 31,55.6 32,55.5 33,55.8 34,56.2 35,56.2 36,56.2 37,56.3 38,56.3 39,56.2 40,56.1 41,56.4 42,56.5 43,56.8 44,56.6 45,56.4 46,56.4 47,56.4 48,56.3 49,56.2 50,56.2 51,56.3 52,56.4 53,56.7 54,56.6 55,56.7 56,56.8 57,57.2 58,56.4 59,56.8 60,57.2"/>
</g>
<g stroke-width="1.4">
<line x1="882" y1="479.3" x2="905" y2="479.3" stroke="#000"/>
<line x1="882" y1="492.7" x2="905" y2="492.7" stroke="#f00"/>
<line x1="882" y1="506" x2="905" y2="506" stroke="#00f"/>
<line x1="970" y1="479.3" x2="993" y2="479.3" stroke="#f0f"/>
<line x1="970" y1="492.7" x2="993" y2="492.7" stroke="#008000"/>
<line x1="970" y1="506" x2="993" y2="506" stroke="#000080"/>
</g>
<g style="font-size:10px">
<text x="910" y="483" textLength="33" lengthAdjust="spacingAndGlyphs">0.6 sun</text>
<text x="910" y="496.4" textLength="33" lengthAdjust="spacingAndGlyphs">0.8 sun</text>
<text x="910" y="509.7" textLength="33" lengthAdjust="spacingAndGlyphs">1.0 sun</text>
<text x="998" y="483" textLength="33" lengthAdjust="spacingAndGlyphs">1.2 sun</text>
<text x="998" y="496.4" textLength="33" lengthAdjust="spacingAndGlyphs">1.4 sun</text>
<text x="998" y="509.7" textLength="33" lengthAdjust="spacingAndGlyphs">1.6 sun</text>
</g>
<rect class="ax" x="770.7" y="312.7" width="309.3" height="221.6"/>
<path class="tk" d="M766.5 523.3H770.7M766.5 500H770.7M766.5 476.7H770.7M766.5 453.3H770.7M766.5 430H770.7M766.5 406.7H770.7M766.5 383.3H770.7M766.5 360H770.7M766.5 336.7H770.7M766.5 313.3H770.7
M768.5 511.7H770.7M768.5 488.3H770.7M768.5 465H770.7M768.5 441.7H770.7M768.5 418.3H770.7M768.5 395H770.7M768.5 371.7H770.7M768.5 348.3H770.7M768.5 325H770.7
M784 534.3V538.5M808.3 534.3V538.5M832.7 534.3V538.5M857 534.3V538.5M881.3 534.3V538.5M905.7 534.3V538.5M930 534.3V538.5M954.3 534.3V538.5M978.7 534.3V538.5M1003 534.3V538.5M1027.3 534.3V538.5M1051.7 534.3V538.5M1076 534.3V538.5
M796.2 534.3V536.5M820.5 534.3V536.5M844.8 534.3V536.5M869.2 534.3V536.5M893.5 534.3V536.5M917.8 534.3V536.5M942.2 534.3V536.5M966.5 534.3V536.5M990.8 534.3V536.5M1015.2 534.3V536.5M1039.5 534.3V536.5M1063.8 534.3V536.5"/>
<g style="font-size:10.5px" text-anchor="end">
<text x="765.5" y="527">20</text><text x="765.5" y="503.7">30</text><text x="765.5" y="480.4">40</text><text x="765.5" y="457">50</text><text x="765.5" y="433.7">60</text><text x="765.5" y="410.4">70</text><text x="765.5" y="387">80</text><text x="765.5" y="363.7">90</text><text x="765.5" y="340.4">100</text><text x="765.5" y="317">110</text>
</g>
<g style="font-size:10.5px" text-anchor="middle">
<text x="784" y="550">0</text><text x="808.3" y="550">5</text><text x="832.7" y="550">10</text><text x="857" y="550">15</text><text x="881.3" y="550">20</text><text x="905.7" y="550">25</text><text x="930" y="550">30</text><text x="954.3" y="550">35</text><text x="978.7" y="550">40</text><text x="1003" y="550">45</text><text x="1027.3" y="550">50</text><text x="1051.7" y="550">55</text><text x="1076" y="550">60</text>
</g>
<text transform="translate(743,413) rotate(-90)" text-anchor="middle" style="font-size:12.5px" textLength="107" lengthAdjust="spacingAndGlyphs">Temperature (°C)</text>
<text x="933" y="566" text-anchor="middle" style="font-size:12px" textLength="57" lengthAdjust="spacingAndGlyphs">Time (min)</text>
</svg>
</body></html>
